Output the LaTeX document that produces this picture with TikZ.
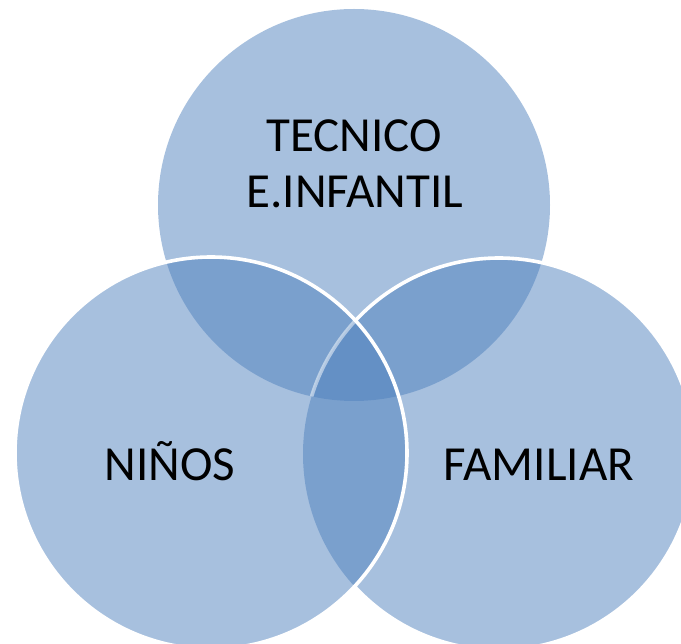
\documentclass[tikz,border=0pt]{standalone}
\usepackage{fontspec}
\setmainfont{Carlito}
\usetikzlibrary{positioning}
\definecolor{vennblue}{HTML}{4F81BD}

\begin{document}
\begin{tikzpicture}[
			x=1pt, y=-1pt,
			setfill/.style={fill=vennblue, fill opacity=0.5},
			rim/.style={draw=white, line width=3.6pt},
			setname/.style={font=\fontsize{49}{56}\selectfont, text=black, inner sep=0pt, anchor=base}
			]
			\useasboundingbox (0,0) rectangle (681,644);
			\clip (0,0) rectangle (681,644);
			% --- Centros de los tres conjuntos ---
			\coordinate (ctop) at (354,205);   % Tecnico
			\coordinate (cleft) at (211,453);  % Ninos
			\coordinate (cright) at (499,454); % Familiar
			
			% --- Relleno semitransparente ---
			\fill[setfill] (ctop) circle[radius=196];
			\fill[setfill] (cright) circle[radius=196];
			\fill[setfill] (cleft) circle[radius=196];
			
			% --- Bordes blancos ---
			\begin{scope}[even odd rule]
				\clip (-10,-10) rectangle (700,700) (cleft) circle[radius=196];
				\draw[rim] (cright) circle[radius=196];
			\end{scope}
			\begin{scope}
				\clip (ctop) circle[radius=196];
				\clip (cleft) circle[radius=196];
				\draw[rim, draw opacity=0.5] (cright) circle[radius=196];
			\end{scope}
			\draw[rim] (cleft) circle[radius=196];
			
			% --- Textos ---
			\node[setname] (tecnico) at (354,152) {TECNICO};
			\node[setname] (infantil) at (355,208) {E.INFANTIL};
			\node[setname] (ninos) at (170,481) {NIÑOS};
			\node[setname] (familiar) at (539,481) {FAMILIAR};
		\end{tikzpicture}
\end{document}
